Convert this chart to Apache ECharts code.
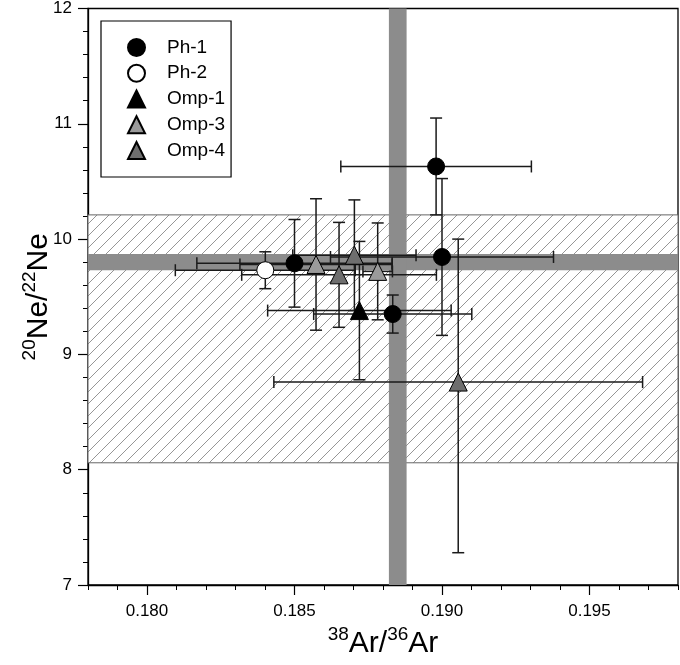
<!DOCTYPE html>
<html><head><meta charset="utf-8">
<script src="https://cdn.jsdelivr.net/npm/echarts@6/dist/echarts.min.js"></script>
<style>html,body{margin:0;padding:0;background:#fff}#c{width:680px;height:665px}</style>
</head><body><div id="c"></div>
<script>
// ---- data ----
const seriesNames = ['Ph-1', 'Ph-2', 'Omp-1', 'Omp-3', 'Omp-4'];
const ph1X = [0.1898, 0.1900, 0.18833, 0.1850];
const ph1Y = [10.63, 9.845, 9.35, 9.79];
const ph1XErr = [0.00323, 0.00378, 0.00268, 0.00331];
const ph1YErrUp = [0.42, 0.68, 0.165, 0.38];
const ph1YErrDown = [0.42, 0.68, 0.165, 0.38];
const ph2X = [0.18401];
const ph2Y = [9.73];
const ph2XErr = [0.00305];
const ph2YErrUp = [0.16];
const ph2YErrDown = [0.16];
const omp1X = [0.1872];
const omp1Y = [9.38];
const omp1XErr = [0.00311];
const omp1YErrUp = [0.60];
const omp1YErrDown = [0.60];
const omp3X = [0.18573, 0.18782];
const omp3Y = [9.78, 9.72];
const omp3XErr = [0.00258, 0.0005];
const omp3YErrUp = [0.57, 0.42];
const omp3YErrDown = [0.57, 0.42];
const omp4X = [0.18651, 0.18703, 0.19055];
const omp4Y = [9.69, 9.86, 8.76];
const omp4XErr = [0.0033, 0.00209, 0.00625];
const omp4YErrUp = [0.455, 0.48, 1.24];
const omp4YErrDown = [0.455, 0.48, 1.48];
const hatchBand = [8.06, 10.21];     // 20Ne/22Ne range (hatched)
const neBand = [9.73, 9.87];         // 20Ne/22Ne (grey horizontal band)
const arBand = [0.1882, 0.1888];     // 38Ar/36Ar (grey vertical band)
const xTickLabels = [0.180, 0.185, 0.190, 0.195];
const xRange = [0.178, 0.198];
const yRange = [7, 12];

// ---- helpers ----
function rows(xs, ys, ex, eu, ed) { return xs.map((x, i) => [x, ys[i], ex[i], eu[i], ed[i]]); }
const groups = [
  rows(ph1X, ph1Y, ph1XErr, ph1YErrUp, ph1YErrDown),
  rows(ph2X, ph2Y, ph2XErr, ph2YErrUp, ph2YErrDown),
  rows(omp1X, omp1Y, omp1XErr, omp1YErrUp, omp1YErrDown),
  rows(omp3X, omp3Y, omp3XErr, omp3YErrUp, omp3YErrDown),
  rows(omp4X, omp4Y, omp4XErr, omp4YErrUp, omp4YErrDown)
];
const symbols = ['circle', 'circle', 'triangle', 'triangle', 'triangle'];
const fills = ['#000000', '#ffffff', '#000000', '#9a9a9a', '#6e6e6e'];
const sizes = [17, 17, 18, 18, 18];

const pat = document.createElement('canvas');
const P = 12;
pat.width = P; pat.height = P;
const g = pat.getContext('2d');
g.fillStyle = '#ffffff'; g.fillRect(0, 0, P, P);
g.strokeStyle = '#8a8a8a'; g.lineWidth = 0.9;
g.beginPath();
g.moveTo(0, P); g.lineTo(P, 0);
g.moveTo(-P/2, P/2); g.lineTo(P/2, -P/2);
g.moveTo(P/2, P*1.5); g.lineTo(P*1.5, P/2);
g.stroke();

function errRender(params, api) {
  const x = api.value(0), y = api.value(1), dx = api.value(2), du = api.value(3), dd = api.value(4);
  const c = api.coord([x, y]);
  const l = api.coord([x - dx, y]), r = api.coord([x + dx, y]);
  const t = api.coord([x, y + du]), b = api.coord([x, y - dd]);
  const cap = 6;
  const st = { stroke: '#1a1a1a', lineWidth: 1.5 };
  const ln = (x1, y1, x2, y2) => ({ type: 'line', shape: { x1, y1, x2, y2 }, style: st });
  return { type: 'group', children: [
    ln(l[0], c[1], r[0], c[1]),
    ln(l[0], c[1] - cap, l[0], c[1] + cap),
    ln(r[0], c[1] - cap, r[0], c[1] + cap),
    ln(c[0], t[1], c[0], b[1]),
    ln(c[0] - cap, t[1], c[0] + cap, t[1]),
    ln(c[0] - cap, b[1], c[0] + cap, b[1])
  ]};
}

const series = [];
series.push({
  type: 'scatter', data: [], silent: true, z: 1,
  markArea: { silent: true, itemStyle: { color: { image: pat, repeat: 'repeat' }, borderColor: '#666', borderWidth: 1 },
    data: [[{ yAxis: hatchBand[0] }, { yAxis: hatchBand[1] }]] }
});
series.push({
  type: 'scatter', data: [], silent: true, z: 2,
  markArea: { silent: true, itemStyle: { color: '#8c8c8c', borderWidth: 0 },
    data: [[{ yAxis: neBand[0] }, { yAxis: neBand[1] }], [{ xAxis: arBand[0] }, { xAxis: arBand[1] }]] }
});
groups.forEach((d, i) => {
  series.push({
    type: 'custom', name: seriesNames[i] + ' err', renderItem: errRender, z: 3,
    encode: { x: 0, y: 1 }, data: d, silent: true
  });
});
groups.forEach((d, i) => {
  series.push({
    type: 'scatter', name: seriesNames[i], symbol: symbols[i], symbolSize: sizes[i], z: 4,
    data: d.map(r => [r[0], r[1]]),
    itemStyle: { color: fills[i], borderColor: '#000', borderWidth: 1, opacity: 1 }
  });
});

const font = 'Liberation Sans, Arial, sans-serif';
const titleRich = {
  b: { fontSize: 30, fontFamily: font, color: '#000', verticalAlign: 'bottom', lineHeight: 34 },
  sup: { fontSize: 19, fontFamily: font, color: '#000', verticalAlign: 'top', lineHeight: 34 }
};
const chart = echarts.init(document.getElementById('c'), null, { renderer: 'canvas' });
chart.setOption({
  animation: false,
  backgroundColor: '#fff',
  grid: { left: 88, right: 2, top: 8, bottom: 80, show: true, borderColor: '#000', borderWidth: 1.3, backgroundColor: 'transparent' },
  legend: {
    data: seriesNames, orient: 'vertical', left: 101, top: 21,
    itemWidth: 17, itemHeight: 17, itemGap: 6.75,
    padding: [17, 6, 17, 26], borderColor: '#000', borderWidth: 1.2, backgroundColor: '#fff',
    textStyle: { fontSize: 19, lineHeight: 17, fontFamily: font, color: '#000', padding: [0, 0, 0, 17] }
  },
  xAxis: [{
    type: 'value', min: xRange[0], max: xRange[1],
    name: '{sup|38}{b|Ar/}{sup|36}{b|Ar}', nameLocation: 'middle', nameGap: 36,
    nameTextStyle: { rich: titleRich },
    axisLine: { lineStyle: { color: '#000', width: 1.3 } },
    axisTick: { length: 10, customValues: xTickLabels, lineStyle: { color: '#000', width: 1.2 } },
    axisLabel: { customValues: xTickLabels, formatter: v => v.toFixed(3), fontSize: 17, fontFamily: font, color: '#000', margin: 18 },
    splitLine: { show: false }
  }, {
    type: 'value', min: xRange[0], max: xRange[1], interval: 0.001, position: 'bottom',
    axisLine: { show: false }, axisLabel: { show: false }, splitLine: { show: false },
    axisTick: { length: 5, lineStyle: { color: '#000', width: 1 } }
  }],
  yAxis: [{
    type: 'value', min: yRange[0], max: yRange[1], interval: 1,
    name: '{sup|20}{b|Ne/}{sup|22}{b|Ne}', nameLocation: 'middle', nameGap: 34, nameRotate: 90,
    nameMoveOverlap: false,
    nameTextStyle: { rich: titleRich },
    axisLine: { lineStyle: { color: '#000', width: 1.3 } },
    axisTick: { length: 10, lineStyle: { color: '#000', width: 1.2 } },
    minorTick: { show: true, splitNumber: 5, length: 5, lineStyle: { color: '#000', width: 1 } },
    axisLabel: { fontSize: 17, fontFamily: font, color: '#000', margin: 16 },
    splitLine: { show: false }
  }],
  series: series
});
</script></body></html>
